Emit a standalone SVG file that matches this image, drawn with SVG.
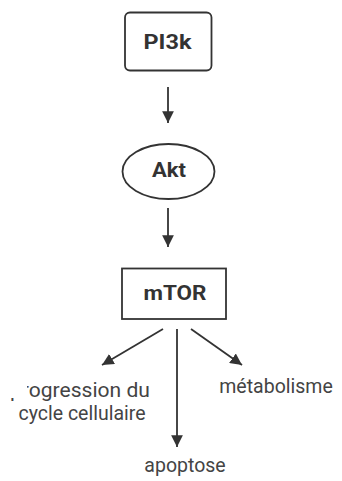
<svg xmlns="http://www.w3.org/2000/svg" width="342" height="481" viewBox="0 0 342 481">
  <style>
    .node { fill: #ffffff; stroke: #333333; stroke-width: 1.8; }
    .title { font-family: Roboto, "Liberation Sans", sans-serif; font-weight: bold; font-size: 19.5px; fill: #333333; text-anchor: middle; }
    .label { font-family: Roboto, "Liberation Sans", sans-serif; font-size: 19.5px; fill: #444444; text-anchor: middle; }
    .conn { stroke: #333333; stroke-width: 1.8; fill: none; marker-end: url(#arrow); }
  </style>
  <defs>
    <marker id="arrow" viewBox="0 0 10 10" refX="10" refY="5" markerWidth="6.5" markerHeight="6.5" markerUnits="strokeWidth" orient="auto">
      <path d="M0,0 L10,5 L0,10 z" fill="#333333"/>
    </marker>
    <clipPath id="clipProg">
      <path d="M27,370 H170 V410 H0 V398 H27 Z"/>
    </clipPath>
  </defs>
  <rect width="342" height="481" fill="#ffffff"/>
  <g id="connectors">
    <line class="conn" x1="168" y1="87" x2="168" y2="123"/>
    <line class="conn" x1="168" y1="208" x2="168" y2="247"/>
    <line class="conn" x1="163" y1="329" x2="102" y2="365"/>
    <line class="conn" x1="177" y1="329" x2="177" y2="447"/>
    <line class="conn" x1="191" y1="329" x2="242" y2="365"/>
  </g>
  <g id="PI3k">
    <rect class="node" x="125" y="12.5" width="86.5" height="58" rx="5"/>
    <text class="title" x="167.5" y="48.5" textLength="48" lengthAdjust="spacingAndGlyphs">PI3k</text>
  </g>
  <g id="Akt">
    <ellipse class="node" cx="168.5" cy="171.5" rx="46" ry="27.5"/>
    <text class="title" x="169" y="176.7" textLength="34" lengthAdjust="spacingAndGlyphs">Akt</text>
  </g>
  <g id="mTOR">
    <rect class="node" x="122" y="268.5" width="104" height="50.5" stroke-width="2"/>
    <text class="title" x="175" y="300" textLength="63" lengthAdjust="spacingAndGlyphs">mTOR</text>
  </g>
  <g id="progression">
    <text class="label" x="80" y="396.7" textLength="140" lengthAdjust="spacingAndGlyphs" clip-path="url(#clipProg)">progression du</text>
    <text class="label" x="82" y="420">cycle cellulaire</text>
  </g>
  <g id="metabolisme">
    <text class="label" x="276" y="393">métabolisme</text>
  </g>
  <g id="apoptose">
    <text class="label" x="185" y="472">apoptose</text>
  </g>
</svg>
